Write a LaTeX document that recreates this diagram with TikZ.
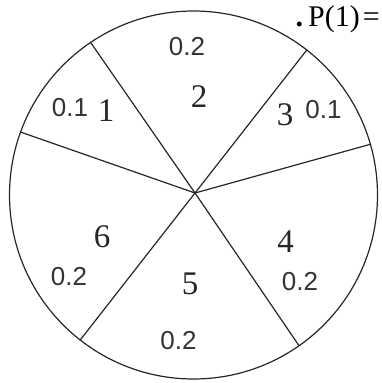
\documentclass[tikz,border=0pt]{standalone}
\usepackage{fontspec}
\setmainfont{Liberation Serif}
\newfontfamily\sansf{Liberation Sans}
\begin{document}
\begin{tikzpicture}[x=1pt,y=-1pt,
  edge/.style={line width=1.2pt,draw=black!85},
  prob/.style={inner sep=0pt,font=\sansf\fontsize{26}{26}\selectfont,text=black!80},
  num/.style={inner sep=0pt,font=\fontsize{33}{33}\selectfont,text=black!85}]
\useasboundingbox (0,0) rectangle (381,383);
\node[circle,edge,minimum size=368pt,inner sep=0pt] (O) at (193.5,195) {};
\coordinate (C) at (195,193);
\draw[edge] (C) -- (O.124);
\draw[edge] (C) -- (O.52.3);
\draw[edge] (C) -- (O.16.4);
\draw[edge] (C) -- (O.-55.7);
\draw[edge] (C) -- (O.232.4);
\draw[edge] (C) -- (O.160);
\node[prob] (p2) at (187,47) {0.2};
\node[num] (n2) at (199,96.5) {2};
\node[prob] (p1) at (70,108) {0.1};
\node[num] (n1) at (106,111) {1};
\node[num] (n3) at (285,115) {3};
\node[prob] (p3) at (323.5,110) {0.1};
\node[num] (n6) at (102,237) {6};
\node[prob] (p6) at (69,277) {0.2};
\node[num] (n5) at (190,283.5) {5};
\node[prob] (p5) at (178.5,341) {0.2};
\node[num] (n4) at (285.5,242) {4};
\node[prob] (p4) at (300,282) {0.2};
\node[inner sep=0pt,anchor=base east,font=\fontsize{30}{30}\selectfont] (P) at (380,26) {\textbf{.}\hspace{5pt}P(1)\hspace{3pt}=};
\end{tikzpicture}
\end{document}
